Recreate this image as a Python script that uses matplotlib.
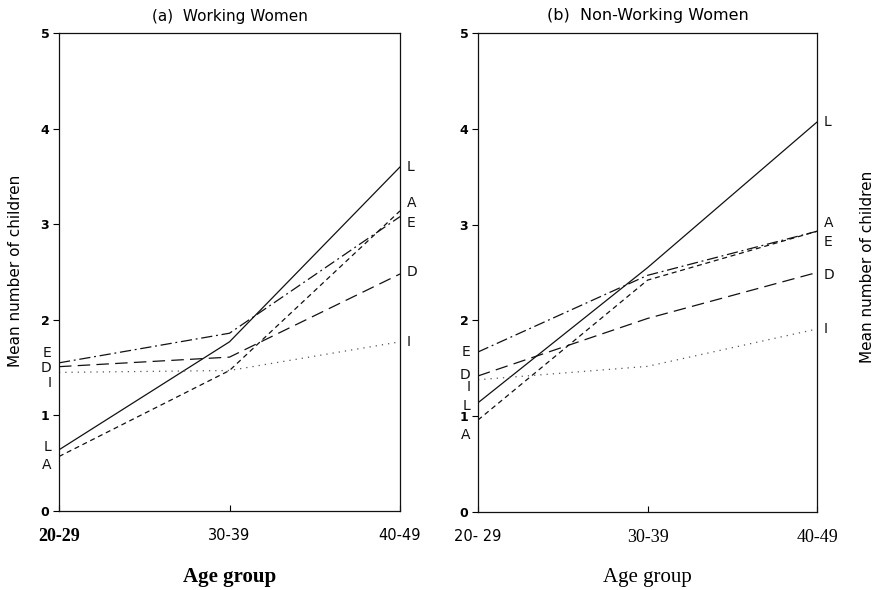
import matplotlib
matplotlib.use("Agg")
import matplotlib.pyplot as plt

age_groups = ["20-29", "30-39", "40-49"]
series_names = ["L", "A", "E", "D", "I"]

working_L = [0.64, 1.77, 3.60]
working_A = [0.57, 1.47, 3.14]
working_E = [1.55, 1.86, 3.08]
working_D = [1.51, 1.61, 2.48]
working_I = [1.45, 1.47, 1.77]

nonworking_L = [1.14, 2.55, 4.07]
nonworking_A = [0.96, 2.42, 2.93]
nonworking_E = [1.67, 2.47, 2.93]
nonworking_D = [1.42, 2.02, 2.50]
nonworking_I = [1.38, 1.52, 1.91]

y_ticks = [0, 1, 2, 3, 4, 5]

styles = {
    "L": dict(linestyle="-", color="#111111", lw=0.9),
    "A": dict(linestyle=(0, (4, 3)), color="#111111", lw=0.9),
    "E": dict(linestyle=(0, (9, 3, 1.5, 3)), color="#111111", lw=0.9),
    "D": dict(linestyle=(0, (10, 5)), color="#111111", lw=0.9),
    "I": dict(linestyle=(0, (1, 4)), color="#555555", lw=0.9),
}

# label nudges (in data units) to avoid overlap
left_nudge_a = {"L": 0.03, "A": -0.09, "E": 0.10, "D": -0.01, "I": -0.11}
right_nudge_a = {"L": 0.0, "A": 0.08, "E": -0.07, "D": 0.02, "I": 0.0}
left_nudge_b = {"L": -0.03, "A": -0.16, "E": 0.0, "D": 0.01, "I": -0.08}
right_nudge_b = {"L": 0.0, "A": 0.09, "E": -0.11, "D": -0.03, "I": 0.0}

fig = plt.figure(figsize=(8.79, 5.9), dpi=100)
ax1 = fig.add_axes([0.0671, 0.1339, 0.388, 0.810])
ax2 = fig.add_axes([0.5438, 0.1322, 0.3857, 0.812])

panels = [
    (ax1, dict(L=working_L, A=working_A, E=working_E, D=working_D, I=working_I),
     "(a)  Working Women", left_nudge_a, right_nudge_a, 11),
    (ax2, dict(L=nonworking_L, A=nonworking_A, E=nonworking_E, D=nonworking_D, I=nonworking_I),
     "(b)  Non-Working Women", left_nudge_b, right_nudge_b, 11.5),
]

x = list(range(len(age_groups)))
for ax, data, title, ln, rn, tfs in panels:
    for name in series_names:
        vals = data[name]
        ax.plot(x, vals, **styles[name])
        ax.text(-0.045, vals[0] + ln[name], name, ha="right", va="center",
                fontsize=10, family="DejaVu Sans", color="#111111")
        ax.text(2.04, vals[-1] + rn[name], name, ha="left", va="center",
                fontsize=10, family="DejaVu Sans", color="#111111")
    ax.set_xlim(0, 2)
    ax.set_ylim(0, 5)
    ax.set_yticks(y_ticks)
    ax.set_yticklabels([str(t) for t in y_ticks], fontsize=9, family="DejaVu Sans",
                       weight="bold")
    ax.set_xticks(x)
    ax.tick_params(axis="y", length=4, width=0.8, pad=3, direction="out")
    ax.tick_params(axis="x", length=4, width=0.8, pad=12, direction="in")
    for s in ax.spines.values():
        s.set_linewidth(0.9)
        s.set_color("#111111")
    ax.set_title(title, fontsize=tfs, family="DejaVu Sans", pad=9)

# x tick labels mix serif/sans like the scanned original
ax1.set_xticklabels(age_groups)
for lbl, fam, wt, fs in zip(ax1.get_xticklabels(),
                            ["Liberation Serif", "DejaVu Sans", "DejaVu Sans"],
                            ["bold", "normal", "normal"], [13, 10.5, 10.5]):
    lbl.set_family(fam)
    lbl.set_weight(wt)
    lbl.set_fontsize(fs)
ax2.set_xticklabels(["20- 29", "30-39", "40-49"])
for lbl, fam, fs in zip(ax2.get_xticklabels(),
                        ["DejaVu Sans", "Liberation Serif", "Liberation Serif"],
                        [10.5, 13, 13]):
    lbl.set_family(fam)
    lbl.set_fontsize(fs)

ax1.set_xlabel("Age group", fontsize=15, family="Liberation Serif", weight="bold", labelpad=16)
ax2.set_xlabel("Age group", fontsize=15, family="Liberation Serif", labelpad=16)

ax1.set_ylabel("Mean number of children", fontsize=11, family="DejaVu Sans")
ax1.yaxis.set_label_coords(-0.106, 0.502)
ax2.yaxis.set_label_position("right")
ax2.set_ylabel("Mean number of children", fontsize=11, family="DejaVu Sans", rotation=90)
ax2.yaxis.set_label_coords(1.127, 0.511)

fig.savefig("out.png", dpi=100)
